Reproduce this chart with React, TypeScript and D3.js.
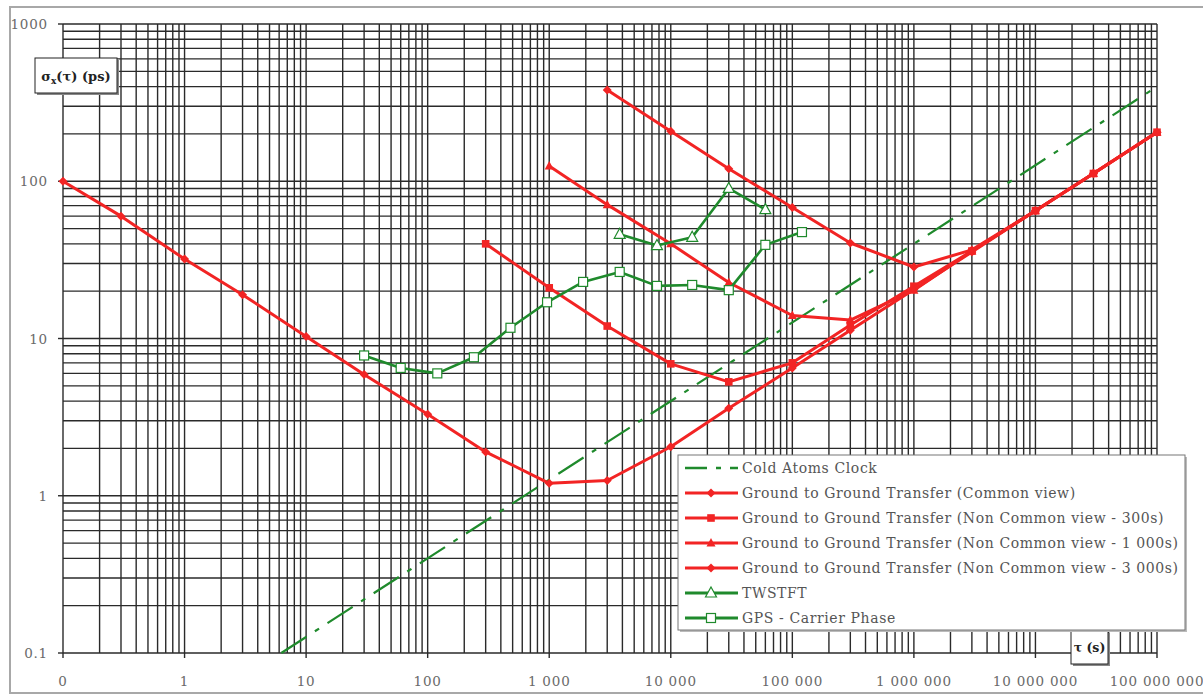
import React from "react";
import * as d3 from "d3";

// ---------- data ----------
const xTickValues = [0.1, 1, 10, 100, 1000, 1e4, 1e5, 1e6, 1e7, 1e8];
const xTickLabels = ["0", "1", "10", "100", "1 000", "10 000", "100 000", "1 000 000", "10 000 000", "100 000 000"];
const yTickValues = [0.1, 1, 10, 100, 1000];
const yTickLabels = ["0.1", "1", "10", "100", "1000"];

const coldAtomsTau = [6.25, 1e8];
const coldAtomsVal = [0.1, 400];

const commonTau = [0.1, 0.3, 1, 3, 10, 30, 100, 300, 1000, 3000, 1e4, 3e4, 1e5, 3e5, 1e6, 3e6, 1e7, 3e7, 1e8];
const commonVal = [100, 60, 32, 19, 10.3, 5.9, 3.3, 1.9, 1.2, 1.25, 2.05, 3.6, 6.5, 11.3, 20.5, 35.5, 65, 112, 205];

const ncv300Tau = [300, 1000, 3000, 1e4, 3e4, 1e5, 3e5, 1e6, 3e6, 1e7, 3e7, 1e8];
const ncv300Val = [40, 21, 12, 6.9, 5.3, 7.0, 12.2, 21.5, 36, 65, 112, 205];

const ncv1000Tau = [1000, 3000, 1e4, 3e4, 1e5, 3e5, 1e6, 3e6, 1e7, 3e7, 1e8];
const ncv1000Val = [125, 71, 40, 22.7, 14, 13.1, 20.3, 36, 65, 112, 205];

const ncv3000Tau = [3000, 1e4, 3e4, 1e5, 3e5, 1e6, 3e6, 1e7, 3e7, 1e8];
const ncv3000Val = [380, 208, 120, 68, 40.5, 28.5, 36.6, 65, 112, 205];

const twstftTau = [3800, 7700, 15000, 30000, 60000];
const twstftVal = [46, 39, 44, 90, 66];

const gpsTau = [30, 60, 120, 240, 480, 960, 1900, 3800, 7700, 15000, 30000, 60000, 120000];
const gpsVal = [7.8, 6.5, 6.0, 7.6, 11.7, 17, 22.9, 26.5, 21.6, 21.9, 20.3, 39.4, 47.5];

const legendLabels = [
  "Cold Atoms Clock",
  "Ground to Ground Transfer (Common view)",
  "Ground to Ground Transfer (Non Common view - 300s)",
  "Ground to Ground Transfer (Non Common view - 1 000s)",
  "Ground to Ground Transfer (Non Common view - 3 000s)",
  "TWSTFT",
  "GPS - Carrier Phase",
];

// ---------- styles ----------
const RED = "#f22424";
const GREEN = "#1f8a2c";
const GRID = "#2a2a2a";
const FONT = "'DejaVu Serif', serif";

type Marker = "diamond" | "square" | "triangle" | "tri-open" | "sq-open" | "none";

function markerEl(kind: Marker, x: number, y: number, color: string, key: string) {
  if (kind === "diamond") {
    const s = 4.5;
    return <path key={key} d={`M${x},${y - s}L${x + s},${y}L${x},${y + s}L${x - s},${y}Z`} fill={color} />;
  }
  if (kind === "square") {
    return <rect key={key} x={x - 3.8} y={y - 3.8} width={7.6} height={7.6} fill={color} />;
  }
  if (kind === "triangle") {
    return <path key={key} d={`M${x},${y - 5}L${x + 4.5},${y + 3.5}L${x - 4.5},${y + 3.5}Z`} fill={color} />;
  }
  if (kind === "tri-open") {
    return <path key={key} d={`M${x},${y - 6}L${x + 5.5},${y + 4}L${x - 5.5},${y + 4}Z`} fill="#fff" stroke={color} strokeWidth={1.2} />;
  }
  if (kind === "sq-open") {
    return <rect key={key} x={x - 4.5} y={y - 4.5} width={9} height={9} fill="#fff" stroke={color} strokeWidth={1.2} />;
  }
  return null;
}

export default function App() {
  const W = 1203;
  const H = 695;
  const x = d3.scaleLog().domain([0.1, 1e8]).range([63, 1157]);
  const y = d3.scaleLog().domain([0.1, 1000]).range([653, 24]);

  const line = d3
    .line<[number, number]>()
    .x((d) => x(d[0]))
    .y((d) => y(d[1]));

  // grid values
  const xGrid: number[] = [];
  for (let e = -1; e < 8; e++) for (let m = 1; m < 10; m++) xGrid.push(m * Math.pow(10, e));
  xGrid.push(1e8);
  const yGrid: number[] = [];
  for (let e = -1; e < 3; e++) for (let m = 1; m < 10; m++) yGrid.push(m * Math.pow(10, e));
  yGrid.push(1000);

  const series = [
    { tau: commonTau, val: commonVal, color: RED, marker: "diamond" as Marker, width: 3 },
    { tau: ncv300Tau, val: ncv300Val, color: RED, marker: "square" as Marker, width: 3 },
    { tau: ncv1000Tau, val: ncv1000Val, color: RED, marker: "triangle" as Marker, width: 3 },
    { tau: ncv3000Tau, val: ncv3000Val, color: RED, marker: "diamond" as Marker, width: 3 },
    { tau: gpsTau, val: gpsVal, color: GREEN, marker: "sq-open" as Marker, width: 2.6 },
    { tau: twstftTau, val: twstftVal, color: GREEN, marker: "tri-open" as Marker, width: 2.6 },
  ];

  const legendItems: { color: string; marker: Marker; dash?: string }[] = [
    { color: GREEN, marker: "none", dash: "22,9,5,9" },
    { color: RED, marker: "diamond" },
    { color: RED, marker: "square" },
    { color: RED, marker: "triangle" },
    { color: RED, marker: "diamond" },
    { color: GREEN, marker: "tri-open" },
    { color: GREEN, marker: "sq-open" },
  ];

  const zip = (a: number[], b: number[]) => a.map((t, i) => [t, b[i]] as [number, number]);

  return (
    <svg width={W} height={H} style={{ position: "absolute", left: 0, top: 0, background: "#fff" }}>
      <rect x={0} y={0} width={W} height={H} fill="#fff" />
      {/* outer frame */}
      <rect x={10} y={7} width={1205} height={686} fill="none" stroke="#a8a8a8" strokeWidth={2} />

      {/* grid */}
      <g>
        {xGrid.map((v, i) => (
          <line key={"gx" + i} x1={x(v)} x2={x(v)} y1={y(1000)} y2={y(0.1)} stroke={GRID} strokeWidth={1.4} />
        ))}
        {yGrid.map((v, i) => (
          <line key={"gy" + i} x1={x(0.1)} x2={x(1e8)} y1={y(v)} y2={y(v)} stroke={GRID} strokeWidth={1.4} />
        ))}
        {xTickValues.map((v, i) => (
          <line key={"tx" + i} x1={x(v)} x2={x(v)} y1={y(0.1)} y2={y(0.1) + 5} stroke={GRID} strokeWidth={1.4} />
        ))}
        {yTickValues.map((v, i) => (
          <line key={"ty" + i} x1={x(0.1) - 5} x2={x(0.1)} y1={y(v)} y2={y(v)} stroke={GRID} strokeWidth={1.4} />
        ))}
      </g>

      {/* tick labels */}
      <g fontFamily={FONT} fontSize={13.5} fill="#6a6a6a" letterSpacing={0.8}>
        {xTickValues.map((v, i) => (
          <text key={"lx" + i} x={x(v)} y={686} textAnchor="middle">
            {xTickLabels[i]}
          </text>
        ))}
        {yTickValues.map((v, i) => (
          <text key={"ly" + i} x={48} y={y(v) + 5} textAnchor="end">
            {yTickLabels[i]}
          </text>
        ))}
      </g>

      {/* cold atoms clock */}
      <path
        d={line(zip(coldAtomsTau, coldAtomsVal)) || ""}
        fill="none"
        stroke={GREEN}
        strokeWidth={2.2}
        strokeDasharray="30,10,5,10"
      />

      {/* series */}
      {series.map((s, si) => {
        const pts = zip(s.tau, s.val);
        return (
          <g key={"s" + si}>
            <path d={line(pts) || ""} fill="none" stroke={s.color} strokeWidth={s.width} strokeLinejoin="round" />
            {pts.map((p, pi) => markerEl(s.marker, x(p[0]), y(p[1]), s.color, `m${si}-${pi}`))}
          </g>
        );
      })}

      {/* y axis title box */}
      <g>
        <rect x={37} y={60} width={82} height={35} fill="#888" />
        <rect x={35} y={58} width={82} height={35} fill="#fff" stroke="#222" strokeWidth={1} />
        <text x={76} y={81} textAnchor="middle" fontFamily={FONT} fontSize={13} fontWeight="bold" fill="#222">
          σ<tspan fontSize={9} dy={3}>x</tspan>
          <tspan dy={-3}>(τ) (ps)</tspan>
        </text>
      </g>

      {/* x axis title box */}
      <g>
        <rect x={1073} y={633} width={37} height={33} fill="#888" />
        <rect x={1071} y={631} width={37} height={33} fill="#fff" stroke="#222" strokeWidth={1} />
        <text x={1089.5} y={652} textAnchor="middle" fontFamily={FONT} fontSize={12.5} fontWeight="bold" fill="#222">
          τ (s)
        </text>
      </g>

      {/* legend */}
      <g>
        <rect x={680} y={457} width={507} height={175} fill="#bbb" />
        <rect x={678} y={455} width={507} height={175} fill="#fff" stroke="#777" strokeWidth={1} />
        {legendItems.map((it, i) => {
          const ly = 468 + i * 25;
          return (
            <g key={"lg" + i}>
              <line
                x1={685}
                x2={738}
                y1={ly}
                y2={ly}
                stroke={it.color}
                strokeWidth={it.dash ? 2.4 : 3}
                strokeDasharray={it.dash}
              />
              {markerEl(it.marker, 711, ly, it.color, "lm" + i)}
              <text x={742} y={ly + 5} fontFamily={FONT} fontSize={14} letterSpacing={0.6} fill="#555">
                {legendLabels[i]}
              </text>
            </g>
          );
        })}
      </g>
    </svg>
  );
}
